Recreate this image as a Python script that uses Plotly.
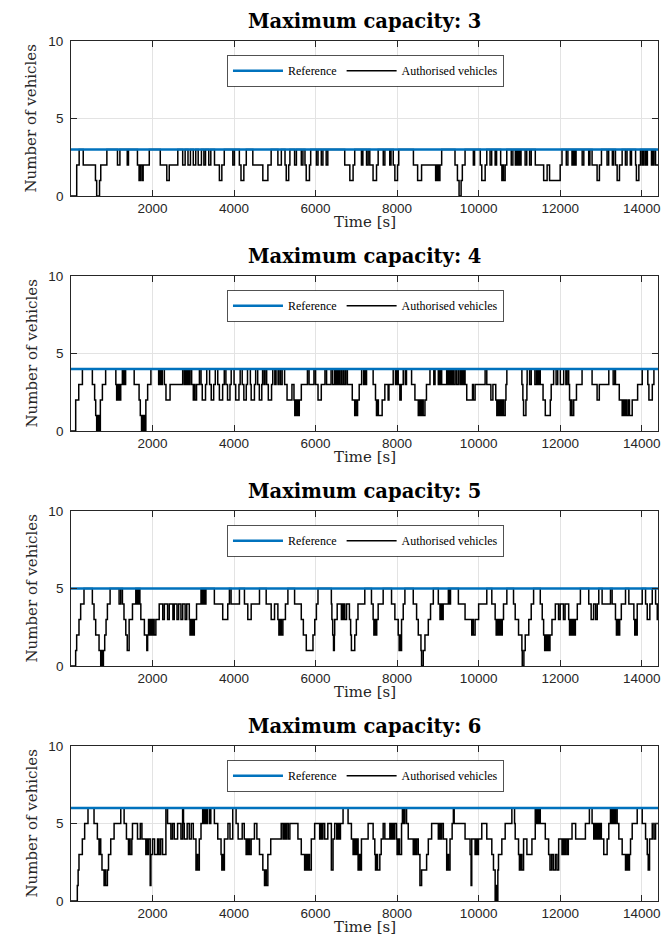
import plotly.graph_objects as go

# ---------------- data ----------------
capacities = [3, 4, 5, 6]
time_end = 14400
x_tick_vals = [2000, 4000, 6000, 8000, 10000, 12000, 14000]
x_tick_text = ["2000", "4000", "6000", "8000", "10000", "12000", "14000"]
y_tick_vals = [0, 5, 10]

# (time [s], authorised vehicles) change points, step-wise
steps_cap3 = [
    (0, 0), (140, 2), (200, 3), (300, 2), (600, 1), (630, 0), (700, 1), (730, 2), (880, 3),
    (1140, 2), (1200, 3), (1380, 2), (1410, 3), (1630, 2), (1670, 1), (1700, 2), (1740, 1), (1770, 2), (1920, 3),
    (2190, 2), (2350, 1), (2410, 2), (2620, 3), (2740, 2), (2800, 3), (2870, 2), (2930, 3), (3000, 2), (3060, 3),
    (3120, 2), (3200, 3), (3260, 2), (3300, 3), (3380, 2), (3430, 3),
    (3520, 2), (3640, 1), (3700, 2), (3760, 3), (3970, 2), (4010, 3), (4130, 2), (4170, 1), (4240, 2), (4300, 3),
    (4460, 2), (4706, 1), (4830, 2), (4910, 3), (5075, 2), (5160, 3), (5250, 2), (5280, 1), (5340, 2), (5370, 3),
    (5485, 2), (5530, 3), (5650, 2), (5690, 3), (5740, 2), (5770, 1), (5850, 2), (5880, 3),
    (6020, 2), (6060, 3), (6140, 2), (6180, 3), (6260, 2), (6300, 3), (6715, 2), (6840, 1), (6920, 2), (6960, 3),
    (7125, 2), (7160, 3), (7250, 2), (7290, 3), (7330, 2), (7410, 1), (7495, 2), (7535, 3),
    (7660, 2), (7700, 3), (7820, 2), (7850, 3), (7905, 2), (7945, 1), (8010, 2), (8040, 3),
    (8400, 2), (8503, 1), (8600, 2), (8945, 1), (8960, 2), (8980, 1), (9000, 2), (9020, 1), (9050, 2), (9093, 3),
    (9420, 2), (9480, 1), (9520, 0), (9570, 1), (9600, 2), (9667, 3), (9870, 2), (9900, 3), (10040, 2), (10077, 1),
    (10160, 2), (10200, 3), (10280, 2), (10320, 3), (10405, 2), (10440, 3), (10540, 2), (10570, 1), (10590, 2),
    (10610, 1), (10650, 2), (10690, 3), (10800, 2), (10840, 3), (10900, 2), (10920, 3), (10940, 2), (10960, 3),
    (10980, 2), (11000, 3), (11020, 2), (11040, 3), (11140, 2), (11180, 3), (11250, 2), (11290, 3),
    (11390, 2), (11595, 1), (11680, 2), (11740, 1), (12000, 2), (12045, 3),
    (12150, 2), (12190, 3), (12290, 2), (12310, 3), (12330, 2), (12350, 3), (12370, 2), (12390, 3), (12540, 2),
    (12580, 3), (12700, 2), (12730, 3), (12783, 2), (12906, 1), (12963, 2), (13013, 3), (13150, 2), (13190, 3),
    (13280, 2), (13310, 3), (13357, 2), (13398, 1), (13455, 2), (13520, 3), (13600, 2), (13640, 3), (13720, 2),
    (13750, 3), (13850, 2), (13870, 1), (13930, 2), (13970, 3), (14010, 2), (14040, 3), (14080, 2), (14100, 3),
    (14120, 2), (14140, 3), (14240, 2), (14260, 3), (14280, 2), (14300, 3), (14340, 2), (14400, 2),
]

steps_cap4 = [
    (0, 0), (115, 2), (190, 3), (280, 4), (524, 3), (580, 2), (606, 1), (630, 0), (650, 1), (670, 0), (690, 1),
    (705, 0), (720, 2), (770, 3), (850, 4),
    (1100, 3), (1120, 2), (1140, 3), (1160, 2), (1180, 3), (1200, 2), (1220, 3), (1260, 4), (1280, 3), (1300, 4),
    (1320, 3), (1340, 4), (1550, 3), (1670, 2), (1700, 1), (1730, 0), (1750, 1), (1770, 0), (1790, 1), (1810, 0),
    (1836, 2), (1880, 3), (1960, 4), (2150, 3), (2180, 4), (2210, 3), (2240, 4),
    (2290, 3), (2330, 2), (2430, 3), (2740, 4), (2780, 3), (2800, 4), (2820, 3), (2840, 4), (2860, 3), (2880, 4),
    (2900, 3), (2920, 4), (2960, 3), (3000, 2), (3020, 3), (3040, 2), (3080, 3), (3150, 4), (3190, 3), (3220, 2),
    (3300, 3), (3330, 4), (3400, 3), (3440, 2), (3500, 3), (3540, 4), (3600, 3), (3640, 2), (3720, 3), (3760, 4),
    (3800, 3), (3840, 2), (3900, 3), (3930, 4), (4000, 3), (4040, 2), (4120, 3), (4150, 4), (4200, 3), (4240, 2),
    (4300, 3), (4330, 4), (4400, 3), (4420, 2), (4500, 3), (4530, 4), (4580, 3), (4620, 2), (4680, 3), (4700, 4),
    (4740, 3), (4760, 4), (4800, 3), (4840, 2), (4920, 3), (4950, 4), (5000, 3), (5030, 4), (5080, 3), (5100, 4),
    (5140, 3), (5180, 4), (5240, 3),
    (5300, 2), (5420, 3), (5470, 2), (5490, 1), (5510, 2), (5530, 1), (5560, 2), (5580, 1), (5600, 2), (5650, 3),
    (5800, 4), (5840, 3), (5960, 4), (6000, 3), (6060, 2), (6140, 3), (6230, 4), (6270, 3), (6380, 4), (6420, 3),
    (6470, 4), (6490, 3), (6510, 4), (6530, 3), (6560, 4), (6580, 3), (6620, 4), (6640, 3), (6680, 4), (6700, 3),
    (6740, 4), (6780, 3), (6900, 2), (6960, 1), (6980, 2), (7000, 1), (7030, 2), (7070, 3), (7130, 4),
    (7180, 3), (7200, 4), (7230, 3), (7250, 4),
    (7412, 3), (7470, 2), (7494, 1), (7520, 2), (7540, 1), (7633, 2), (7699, 3), (7780, 2), (7800, 3), (7904, 4),
    (7960, 3), (7990, 4), (8027, 3), (8068, 2), (8100, 3), (8150, 4), (8200, 3), (8230, 4), (8355, 3), (8437, 2),
    (8519, 1), (8540, 2), (8560, 1), (8580, 2), (8600, 1), (8620, 2), (8640, 1), (8683, 2), (8720, 3), (8806, 4),
    (8900, 3), (8930, 4), (9011, 3), (9030, 4), (9050, 3), (9070, 4), (9093, 3),
    (9216, 4), (9240, 3), (9257, 4), (9280, 3), (9300, 4), (9330, 3), (9350, 4), (9380, 3), (9421, 4), (9460, 3),
    (9503, 4), (9544, 3), (9560, 4), (9580, 3), (9600, 4), (9620, 3), (9640, 4), (9667, 3), (9708, 2), (9850, 3),
    (9870, 2), (9913, 3), (10159, 4), (10200, 3), (10300, 2), (10350, 3), (10420, 2), (10446, 1), (10470, 2),
    (10490, 1), (10520, 2), (10550, 1), (10580, 2), (10610, 1), (10651, 2), (10670, 3), (10692, 4),
    (11061, 3), (11085, 2), (11102, 1), (11160, 2), (11184, 3), (11190, 4), (11250, 3), (11290, 4), (11380, 3),
    (11420, 4), (11440, 3), (11460, 4), (11480, 3), (11500, 4), (11512, 3), (11580, 2), (11635, 1), (11758, 2),
    (11780, 3), (11840, 4), (11900, 3), (11940, 4), (12004, 3), (12086, 4), (12140, 3), (12170, 4), (12209, 3),
    (12230, 2), (12250, 1), (12270, 2), (12290, 1), (12332, 2), (12400, 3), (12537, 4), (12783, 3), (12906, 2),
    (12960, 3), (13193, 4), (13300, 3), (13340, 4), (13357, 3), (13450, 2), (13521, 1), (13550, 2), (13580, 1),
    (13610, 2), (13640, 1), (13680, 2), (13700, 1), (13767, 2), (13900, 3), (14013, 4), (14150, 3), (14177, 2),
    (14260, 3), (14300, 4), (14400, 4),
]

steps_cap5 = [
    (0, 0), (114, 1), (139, 2), (196, 3), (237, 4), (319, 5), (524, 4), (565, 3), (606, 2), (688, 1), (729, 0),
    (745, 1), (760, 0), (795, 1), (827, 2), (860, 3), (893, 4), (959, 5), (1180, 4), (1221, 5), (1262, 4),
    (1300, 3), (1344, 2), (1380, 1), (1426, 3), (1508, 4), (1590, 5), (1610, 4), (1630, 5), (1650, 4), (1672, 5),
    (1690, 4), (1713, 3), (1800, 2), (1860, 1), (1880, 2), (1902, 3), (1920, 2), (1940, 3), (1960, 2), (1980, 3),
    (2000, 2), (2020, 3), (2040, 2), (2082, 3), (2164, 4), (2250, 3), (2290, 4), (2369, 3), (2410, 4), (2500, 3),
    (2533, 4), (2600, 3), (2640, 4), (2697, 3), (2740, 4), (2800, 3), (2840, 4), (2902, 3), (2920, 2), (2940, 3),
    (2960, 2), (2980, 3), (3000, 2), (3025, 3), (3080, 4), (3189, 5), (3210, 4), (3230, 5), (3250, 4), (3270, 5),
    (3290, 4), (3310, 5), (3517, 4), (3722, 3), (3845, 4), (3886, 5), (3927, 4), (4132, 5), (4255, 4), (4337, 3),
    (4420, 4), (4624, 5), (4788, 4), (4911, 3), (4993, 4), (5075, 3), (5100, 2), (5130, 3), (5160, 2), (5198, 3),
    (5260, 4), (5321, 5), (5485, 4), (5649, 3), (5700, 2), (5772, 1), (5936, 2), (5980, 3), (6020, 4), (6059, 5),
    (6387, 4), (6400, 3), (6420, 2), (6440, 1), (6460, 2), (6469, 3), (6530, 4), (6633, 3), (6650, 4), (6670, 3),
    (6690, 4), (6715, 3), (6760, 4), (6830, 3), (6860, 2), (6879, 1), (6961, 2), (7000, 3), (7040, 4), (7207, 5),
    (7371, 4), (7412, 3), (7430, 2), (7450, 3), (7470, 2), (7500, 3), (7535, 4), (7658, 5), (7863, 4), (7945, 3),
    (8027, 2), (8050, 1), (8070, 2), (8090, 1), (8109, 3), (8150, 4), (8191, 5), (8396, 4), (8478, 3), (8519, 2),
    (8585, 1), (8600, 0), (8642, 1), (8683, 2), (8765, 3), (8820, 4), (8888, 5), (9011, 4), (9052, 3), (9080, 4),
    (9100, 3), (9130, 4), (9257, 5), (9290, 4), (9310, 5), (9503, 4), (9667, 3), (9831, 2), (9850, 3), (9870, 2),
    (9913, 3), (10000, 4), (10200, 5), (10323, 4), (10405, 3), (10430, 2), (10460, 3), (10490, 2), (10520, 3),
    (10550, 2), (10580, 3), (10610, 4), (10692, 5), (10856, 4), (10897, 3), (10979, 2), (11061, 1), (11070, 0),
    (11110, 1), (11143, 2), (11230, 3), (11290, 4), (11348, 5), (11512, 4), (11560, 3), (11594, 2), (11620, 1),
    (11640, 2), (11660, 1), (11690, 2), (11720, 1), (11750, 2), (11799, 3), (11881, 4), (11960, 3), (12000, 4),
    (12080, 3), (12120, 4), (12209, 3), (12230, 2), (12260, 3), (12290, 2), (12320, 3), (12350, 2), (12373, 3),
    (12420, 4), (12496, 5), (12701, 4), (12760, 3), (12820, 4), (12870, 3), (12910, 4), (12947, 5), (13029, 4),
    (13234, 5), (13275, 4), (13357, 3), (13380, 2), (13410, 3), (13439, 2), (13460, 3), (13500, 4), (13603, 5),
    (13685, 4), (13808, 3), (13830, 2), (13850, 3), (13870, 2), (13890, 4), (14013, 5), (14095, 4), (14136, 3),
    (14200, 4), (14259, 5), (14341, 4), (14382, 3), (14400, 3),
]

steps_cap6 = [
    (0, 0), (155, 1), (175, 2), (196, 3), (278, 4), (335, 5), (417, 6), (565, 5), (647, 4), (688, 3), (700, 4),
    (729, 3), (760, 2), (811, 1), (830, 2), (850, 1), (893, 2), (920, 3), (975, 4), (1057, 5), (1221, 6),
    (1303, 5), (1360, 4), (1410, 3), (1430, 4), (1450, 3), (1492, 4), (1508, 5), (1631, 4), (1700, 5), (1740, 4),
    (1836, 3), (1860, 4), (1880, 3), (1900, 4), (1943, 1), (1960, 3), (2000, 4), (2050, 3), (2123, 4), (2160, 3),
    (2200, 4), (2246, 3), (2328, 6), (2369, 5), (2450, 4), (2490, 5), (2533, 4), (2615, 5), (2697, 4), (2738, 6),
    (2760, 5), (2779, 4), (2850, 5), (2900, 4), (2950, 5), (3000, 4), (3066, 2), (3090, 3), (3110, 2), (3148, 4),
    (3189, 5), (3230, 6), (3260, 5), (3290, 6), (3320, 5), (3350, 6), (3400, 5), (3430, 6), (3517, 5), (3600, 4),
    (3681, 3), (3700, 2), (3720, 3), (3740, 2), (3763, 4), (3850, 5), (3900, 4), (3968, 6), (4050, 5), (4100, 4),
    (4200, 5), (4250, 4), (4296, 3), (4320, 4), (4340, 3), (4360, 4), (4380, 3), (4419, 4), (4500, 5), (4560, 4),
    (4624, 3), (4706, 2), (4747, 1), (4770, 2), (4790, 1), (4829, 3), (4900, 4), (5157, 5), (5200, 4), (5230, 5),
    (5260, 4), (5290, 5), (5330, 4), (5370, 5), (5567, 4), (5649, 3), (5731, 2), (5760, 3), (5790, 2), (5820, 3),
    (5850, 2), (5895, 4), (5977, 5), (6100, 4), (6120, 5), (6150, 4), (6180, 5), (6223, 4), (6300, 5), (6387, 2),
    (6428, 4), (6469, 5), (6520, 4), (6550, 5), (6580, 4), (6610, 5), (6674, 6), (6797, 5), (6879, 4), (6920, 3),
    (6950, 4), (6980, 3), (7010, 4), (7043, 2), (7080, 3), (7100, 2), (7125, 4), (7289, 5), (7412, 4), (7453, 3),
    (7470, 2), (7500, 3), (7520, 2), (7576, 3), (7610, 4), (7658, 5), (7699, 4), (7822, 5), (7850, 4), (7880, 5),
    (7910, 4), (7940, 5), (7986, 4), (8000, 3), (8030, 4), (8060, 3), (8109, 5), (8130, 6), (8160, 5), (8190, 6),
    (8232, 5), (8273, 4), (8396, 3), (8420, 4), (8450, 3), (8480, 4), (8519, 3), (8560, 1), (8601, 2), (8724, 3),
    (8765, 4), (8847, 5), (9011, 4), (9030, 5), (9060, 4), (9093, 5), (9134, 4), (9216, 2), (9240, 3), (9260, 2),
    (9298, 4), (9350, 5), (9380, 6), (9400, 5), (9667, 4), (9790, 3), (9815, 1), (9831, 4), (9913, 3), (9940, 4),
    (9970, 3), (9995, 4), (10077, 5), (10200, 4), (10323, 3), (10364, 2), (10405, 0), (10430, 1), (10450, 0),
    (10471, 2), (10487, 3), (10569, 4), (10651, 5), (10815, 6), (10881, 5), (10897, 4), (10979, 3), (11000, 2),
    (11030, 3), (11060, 2), (11102, 4), (11184, 3), (11307, 4), (11389, 6), (11420, 5), (11440, 6), (11470, 5),
    (11490, 6), (11512, 5), (11635, 4), (11717, 3), (11750, 2), (11790, 3), (11830, 2), (11880, 3), (11920, 2),
    (11963, 4), (12045, 3), (12070, 4), (12100, 3), (12130, 4), (12168, 3), (12200, 4), (12291, 5), (12380, 4),
    (12619, 5), (12717, 6), (12783, 5), (12824, 4), (12860, 5), (12890, 4), (12920, 5), (12950, 4), (12980, 5),
    (13010, 4), (13070, 3), (13152, 4), (13193, 5), (13234, 6), (13270, 5), (13300, 6), (13330, 5), (13360, 6),
    (13398, 5), (13439, 4), (13521, 3), (13603, 2), (13640, 3), (13670, 2), (13700, 3), (13726, 4), (13767, 5),
    (13890, 6), (14013, 5), (14095, 4), (14136, 3), (14160, 2), (14193, 4), (14259, 5), (14300, 4), (14340, 5),
    (14400, 5),
]

all_steps = [steps_cap3, steps_cap4, steps_cap5, steps_cap6]

# ---------------- layout constants (pixels) ----------------
W, H = 671, 942
M_L, M_R, M_T, M_B = 63, 21, 33, 49
PLOT_H, GAP = 155, 80
AREA_H = H - M_T - M_B

BLUE = "#0072BD"
AX = "#262626"
GRID = "#e3e3e3"
SERIF = "DejaVu Serif"

fig = go.Figure()
annotations = []
layout_extra = {}

for i, (cap, steps) in enumerate(zip(capacities, all_steps)):
    k = i + 1
    sfx = "" if k == 1 else str(k)
    top_px = M_T + i * (PLOT_H + GAP)
    y_top = (H - M_B - top_px) / AREA_H
    y_bot = (H - M_B - top_px - PLOT_H) / AREA_H
    legend_name = "legend" if k == 1 else f"legend{k}"

    ts = [s[0] for s in steps]
    vs = [s[1] for s in steps]

    fig.add_trace(go.Scatter(
        x=ts, y=vs, mode="lines", line=dict(color="black", width=1.5, shape="hv"),
        name="Authorised vehicles", legend=legend_name, legendrank=2,
        xaxis="x" + sfx, yaxis="y" + sfx, showlegend=True,
    ))
    fig.add_trace(go.Scatter(
        x=[0, time_end], y=[cap, cap], mode="lines", line=dict(color=BLUE, width=2.6),
        name="Reference", legend=legend_name, legendrank=1,
        xaxis="x" + sfx, yaxis="y" + sfx, showlegend=True,
    ))

    common = dict(
        showline=True, linecolor=AX, linewidth=0.8, mirror="ticks",
        ticks="inside", ticklen=6, tickwidth=0.8, tickcolor=AX,
        showgrid=True, gridcolor=GRID, gridwidth=1, zeroline=False,
        tickfont=dict(family="Liberation Sans", size=13.5, color=AX),
    )
    layout_extra["xaxis" + sfx] = dict(
        common, domain=[0, 1], range=[0, time_end], tickvals=x_tick_vals,
        ticktext=x_tick_text, anchor="y" + sfx,
    )
    layout_extra["yaxis" + sfx] = dict(
        common, domain=[y_bot, y_top], range=[0, 10], tickvals=y_tick_vals,
        anchor="x" + sfx, ticklabelstandoff=4,
    )
    legend_top = (H - M_B - top_px - 14.5) / AREA_H
    layout_extra[legend_name] = dict(
        orientation="h", x=0.502, xanchor="center", y=legend_top, yanchor="top",
        bgcolor="white", bordercolor=AX, borderwidth=0.8,
        font=dict(family="Liberation Serif", size=12, color="black"),
        itemwidth=50, tracegroupgap=0,
    )

    annotations.append(dict(
        text=f"<b>Maximum capacity: {cap}</b>", xref="paper", yref="paper",
        x=0.5, y=y_top, xanchor="center", yanchor="bottom", yshift=6, showarrow=False,
        font=dict(family=SERIF, size=19.5, color="black"),
    ))
    annotations.append(dict(
        text="Time [s]", xref="paper", yref="paper",
        x=0.5, y=y_bot, xanchor="center", yanchor="middle", yshift=-26, showarrow=False,
        font=dict(family=SERIF, size=15, color=AX),
    ))
    annotations.append(dict(
        text="Number of vehicles", xref="paper", yref="paper",
        x=(23 - M_L) / (W - M_L - M_R), y=(y_bot + y_top) / 2, xanchor="center", yanchor="middle",
        textangle=-90, showarrow=False,
        font=dict(family=SERIF, size=15, color=AX),
    ))

fig.update_layout(
    width=W, height=H, margin=dict(l=M_L, r=M_R, t=M_T, b=M_B),
    paper_bgcolor="white", plot_bgcolor="white",
    annotations=annotations, **layout_extra,
)

fig.write_html("out.html")
